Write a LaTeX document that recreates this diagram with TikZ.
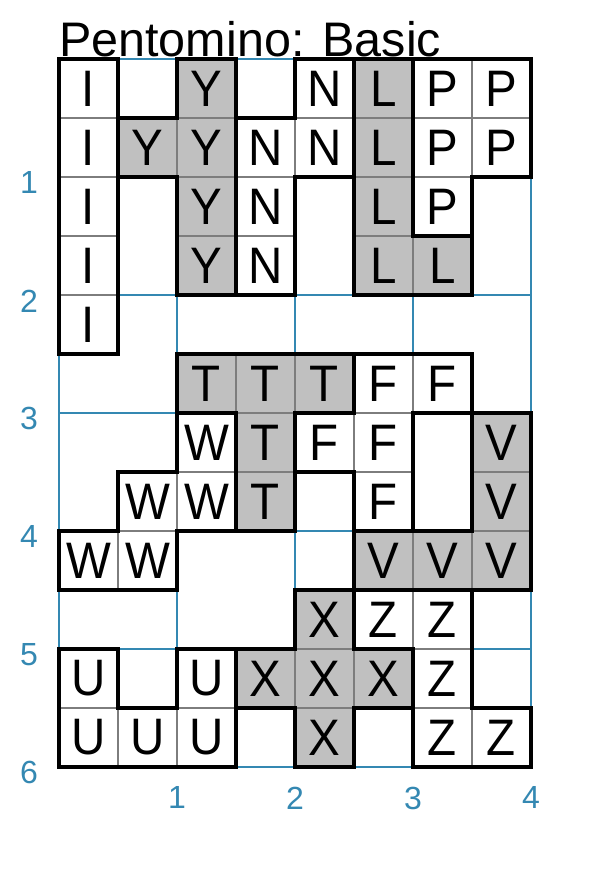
\documentclass[tikz,border=0pt]{standalone}
\usepackage{fontspec}
\setmainfont{Liberation Sans}
\definecolor{gridblue}{RGB}{52,136,178}
\definecolor{piecegray}{RGB}{192,192,192}
\definecolor{cellline}{RGB}{125,125,125}
\tikzset{
  cellbox/.style={draw=cellline, line width=1.2pt},
  outline/.style={draw=black, line width=4pt, line join=miter},
  letter/.style={font=\fontsize{47.5}{58}\selectfont, inner sep=0pt},
  axislabel/.style={text=gridblue, font=\fontsize{32}{38}\selectfont, inner sep=0pt},
  gridline/.style={draw=gridblue, line width=2pt},
}
\newcommand\pentpiece[4]{%
  \foreach \c/\r in {#3} {
    \draw[cellbox, fill=#2] (\c,\r) rectangle ++(1,1);
    \node[letter] (#1-\c-\r) at (\c+0.5,\r+0.5) {\scalebox{1}[1.08]{#1}};
  }
  \draw[outline] #4 -- cycle;
}
\begin{document}
\begin{tikzpicture}[x=59pt,y=-59pt]
\useasboundingbox (-1,-1) rectangle (9.3898,13.8305);
\node[anchor=base west, font=\fontsize{48.5}{58}\selectfont, inner sep=0pt] (title) at (0,-0.034) {Pentomino: Basic};
\foreach \k in {0,2,...,8} \draw[gridline] (\k,0) -- (\k,12);
\foreach \k in {0,2,...,12} \draw[gridline] (0,\k) -- (8,\k);
\foreach \k in {1,...,6} \node[axislabel] (ylab\k) at (-0.5085,2*\k+0.1) {\k};
\foreach \k in {1,...,4} \node[axislabel] (xlab\k) at (2*\k,12.525) {\k};
\pentpiece{I}{white}{0/0,0/1,0/2,0/3,0/4}{(0,0) -- (1,0) -- (1,5) -- (0,5)}
\pentpiece{Y}{piecegray}{2/0,1/1,2/1,2/2,2/3}{(2,0) -- (3,0) -- (3,4) -- (2,4) -- (2,2) -- (1,2) -- (1,1) -- (2,1)}
\pentpiece{N}{white}{4/0,3/1,4/1,3/2,3/3}{(4,0) -- (5,0) -- (5,2) -- (4,2) -- (4,4) -- (3,4) -- (3,1) -- (4,1)}
\pentpiece{L}{piecegray}{5/0,5/1,5/2,5/3,6/3}{(5,0) -- (6,0) -- (6,3) -- (7,3) -- (7,4) -- (5,4)}
\pentpiece{P}{white}{6/0,7/0,6/1,7/1,6/2}{(6,0) -- (8,0) -- (8,2) -- (7,2) -- (7,3) -- (6,3)}
\pentpiece{T}{piecegray}{2/5,3/5,4/5,3/6,3/7}{(2,5) -- (5,5) -- (5,6) -- (4,6) -- (4,8) -- (3,8) -- (3,6) -- (2,6)}
\pentpiece{F}{white}{5/5,6/5,4/6,5/6,5/7}{(5,5) -- (7,5) -- (7,6) -- (6,6) -- (6,8) -- (5,8) -- (5,7) -- (4,7) -- (4,6) -- (5,6)}
\pentpiece{W}{white}{2/6,1/7,2/7,0/8,1/8}{(2,6) -- (3,6) -- (3,8) -- (2,8) -- (2,9) -- (0,9) -- (0,8) -- (1,8) -- (1,7) -- (2,7)}
\pentpiece{V}{piecegray}{7/6,7/7,5/8,6/8,7/8}{(7,6) -- (8,6) -- (8,9) -- (5,9) -- (5,8) -- (7,8)}
\pentpiece{X}{piecegray}{4/9,3/10,4/10,5/10,4/11}{(4,9) -- (5,9) -- (5,10) -- (6,10) -- (6,11) -- (5,11) -- (5,12) -- (4,12) -- (4,11) -- (3,11) -- (3,10) -- (4,10)}
\pentpiece{Z}{white}{5/9,6/9,6/10,6/11,7/11}{(5,9) -- (7,9) -- (7,11) -- (8,11) -- (8,12) -- (6,12) -- (6,10) -- (5,10)}
\pentpiece{U}{white}{0/10,2/10,0/11,1/11,2/11}{(0,10) -- (1,10) -- (1,11) -- (2,11) -- (2,10) -- (3,10) -- (3,12) -- (0,12)}
\end{tikzpicture}
\end{document}
